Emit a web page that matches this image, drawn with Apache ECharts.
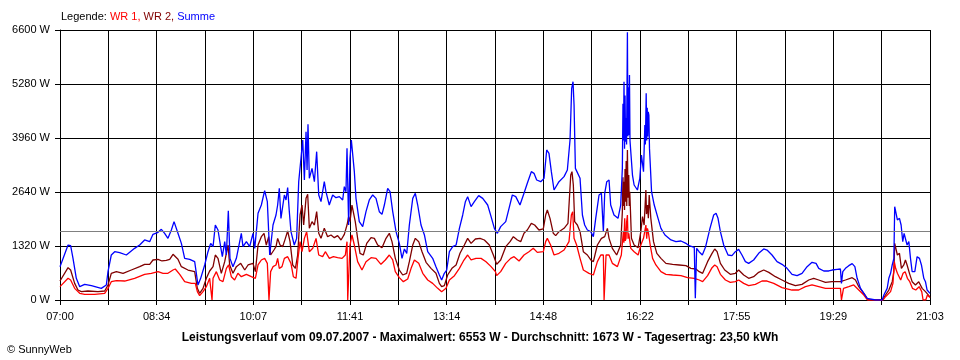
<!DOCTYPE html>
<html>
<head>
<meta charset="utf-8">
<script src="https://cdn.jsdelivr.net/npm/echarts@6/dist/echarts.min.js"></script>
<style>html,body{margin:0;padding:0;background:#fff}#c{width:960px;height:360px}</style>
</head>
<body>
<div id="c"></div>
<script>
// x: minutes since 07:00, y: watts
const tickLabels = ['07:00','08:34','10:07','11:41','13:14','14:48','16:22','17:55','19:29','21:03'];
const spanMinutes = 843;
const gridSteps = 18;
const average = 1673;
const titleText = 'Leistungsverlauf vom 09.07.2007 - Maximalwert: 6553 W - Durchschnitt: 1673 W - Tagesertrag: 23,50 kWh';

const summe = [[0,815],[7.8,1344],[10.3,1330],[12.6,1018],[15.8,530],[19.1,326],[23.9,383],[30.4,350],[40,285],[44.9,367],[46.5,692],[49.7,1100],[53,1181],[57.8,1157],[64.3,1100],[72.3,1263],[77.2,1344],[82,1467],[86.9,1426],[90.1,1605],[95,1654],[98.2,1727],[101.4,1630],[104.6,1507],[107.9,1711],[110.5,1915],[114.3,1630],[117.6,1385],[120.8,1018],[125.7,995],[130.5,937],[132.1,652],[133.7,367],[136.3,530],[140.2,856],[143.4,1181],[146,1385],[148.3,1304],[150.5,1833],[153.1,1711],[155.4,1344],[157.3,1059],[159.6,1426],[161.2,1100],[163.1,2184],[164.7,1018],[167.6,815],[170.9,1018],[175.7,1630],[177.3,1304],[180.6,1426],[183.8,1304],[187,1630],[188.7,1263],[191.9,2119],[195.1,2322],[198.3,2673],[200.9,2404],[203.2,1100],[206.4,1833],[209.3,2078],[210.9,2322],[212.5,2729],[214.1,1996],[217.4,2567],[219,2445],[220.6,2746],[222.2,2159],[223.8,1670],[227,1344],[229.3,1507],[231.3,2892],[233.5,3463],[235.2,3911],[236.8,2933],[238.4,4115],[239.4,3178],[240.3,4294],[241.6,2974],[244.2,3218],[246.5,2892],[248.7,3626],[250.7,2567],[252.9,2404],[256.1,2892],[257.7,2648],[260.9,2322],[264.2,2567],[267.4,2502],[270.7,2526],[273.9,2445],[275.5,2770],[277.1,2648],[278.1,3707],[279.7,1833],[281,3463],[282.3,3911],[283.6,3870],[285.2,3137],[286.8,2485],[290,1915],[293.3,1793],[296.5,2159],[299.7,2445],[303,2567],[306.2,2485],[309.4,2159],[312,2094],[314.3,2322],[317.5,2729],[319.8,2648],[322.4,2159],[325.6,1670],[328.8,1385],[331.4,1018],[333.7,1247],[336,1141],[338.5,1833],[341.8,2485],[344.3,2608],[346.6,2322],[349.8,1833],[353.1,1589],[356.3,1181],[361.1,1018],[364.3,815],[367.6,611],[369.8,489],[372.4,652],[374.7,733],[377.3,1181],[380.5,1304],[383.8,1344],[387,1752],[390.2,2078],[392.8,2404],[395,2526],[398.3,2282],[401.5,2404],[405.7,2552],[409.6,2485],[414.4,2322],[417.7,2037],[420.9,1752],[423.8,1630],[427,1793],[431.9,1915],[435.1,2241],[438.3,2567],[441.6,2526],[445.7,2322],[449.6,2608],[452.8,2852],[454.4,2811],[456.7,3137],[459.3,3096],[461.9,2933],[465.8,2892],[469,2974],[471.6,3667],[473.8,3585],[476.1,3137],[478.7,2689],[480.3,2648],[483.5,2892],[488.4,3015],[491.6,3178],[494.2,3911],[495.8,5174],[497.1,5337],[498.1,4767],[499.4,3218],[501.3,3259],[503.9,2974],[506.2,2078],[508.4,1833],[511,1711],[514.3,1670],[516.8,1548],[519.1,1996],[522.3,2567],[524.6,2608],[526.5,1670],[527.8,2608],[529.8,2892],[532,2933],[533.6,2322],[536.8,2078],[540.7,1996],[543.3,2322],[544.9,3218],[545.5,4800],[546,3900],[546.5,5337],[547,3700],[547.5,5000],[548,3870],[548.5,4440],[549,3800],[549.8,6543],[550.3,4000],[550.8,5200],[551.3,4033],[551.8,5500],[552.3,3900],[553.1,3870],[554.7,3055],[556.3,2811],[559.5,2689],[561.8,2974],[563.4,3544],[565.4,3137],[566.7,4278],[567.2,3800],[568,5052],[568.5,3900],[569,4700],[569.5,4000],[570,4600],[570.6,4522],[571.2,3700],[571.9,3341],[573.2,2648],[575.8,2322],[579,2037],[582.3,1752],[586.2,1589],[592,1467],[596.8,1426],[601.7,1442],[606.5,1385],[609.5,1328],[614.6,1288],[615.6,41],[616.9,1263],[619.2,1181],[622.4,1100],[625.6,1304],[629.8,1752],[633.4,2078],[635.7,2119],[637.6,1996],[639.9,1670],[643.1,1344],[647.3,1100],[651.1,1085],[654.4,1181],[657.6,1238],[660.8,1100],[664.1,937],[667.3,896],[672.1,978],[677,1141],[681.9,1247],[685.1,1222],[689.9,1100],[694.8,937],[699.6,872],[704.5,774],[709.3,627],[714.2,595],[719,652],[723.9,815],[728.7,921],[732.6,896],[735.2,774],[740.1,709],[744.9,709],[748.1,733],[753,750],[756.2,758],[757.2,407],[758.5,693],[761.1,774],[764.3,839],[767.6,888],[770.2,815],[772.4,530],[775.7,285],[778.9,163],[782.1,41],[783.8,0],[790.2,0],[790.9,25],[793.5,0],[796.7,0],[798.3,122],[801.5,285],[803.1,530],[804.8,652],[806.4,856],[808,1018],[808.8,2282],[810.1,2322],[811.4,1956],[813.4,1996],[815,1833],[816.6,1426],[817.9,1630],[819.2,1605],[820.8,1344],[822.5,1426],[824.1,1018],[825.7,693],[828.3,693],[830.5,1059],[832.8,1018],[834.7,856],[837,530],[838.6,448],[840.2,244],[841.9,204],[843,163]];

const wr2 = [[0,464],[7.8,790],[10.3,733],[14.2,407],[17.4,244],[20.7,204],[27.1,220],[36.8,204],[43.3,220],[46.5,367],[49.7,652],[54.6,693],[61.1,652],[69.1,733],[77.2,815],[82,872],[86.9,872],[90.1,978],[95,995],[98.8,954],[103,970],[106.3,995],[109.5,1117],[111.1,1141],[114.3,995],[117.6,815],[124,733],[130.5,693],[133.1,285],[135.3,163],[138.6,285],[141.8,530],[145,709],[148.3,815],[150.5,1100],[153.1,1018],[156.3,652],[159.6,937],[162.8,1344],[164.4,856],[167.6,652],[170.9,815],[175.1,896],[179,733],[182.2,856],[187,896],[189.3,693],[191.9,1344],[195.1,1548],[197.7,1630],[199.9,1344],[202.2,1548],[204.1,1100],[207.3,1222],[209.3,1304],[210.9,1507],[213.2,1344],[215.8,1304],[218.4,1507],[220.6,1687],[222.9,1426],[225.5,856],[228.1,774],[230.3,1100],[232.6,2078],[234.5,2322],[236.1,1833],[238.4,2485],[240,2583],[241.6,1752],[244.2,1915],[246.5,1833],[248.7,2159],[250.7,1630],[252.9,1507],[256.1,1752],[259.3,1548],[262.6,1589],[265.8,1524],[269,1573],[272.3,1467],[275.5,1605],[278.1,1833],[279.7,2037],[281,1915],[282.9,2322],[284.5,2282],[286.1,1915],[288.4,1507],[290.7,1141],[293.9,1100],[297.2,1385],[301.4,1524],[304.6,1507],[307.8,1344],[312,1279],[315.9,1507],[319.1,1630],[321.7,1426],[324.9,1018],[328.8,733],[332.1,611],[335.9,652],[338.5,937],[341.8,1344],[344.3,1507],[347.6,1426],[350.8,1181],[354.7,921],[359.5,774],[364.3,652],[367.6,407],[369.8,326],[372.4,350],[375.6,611],[379.8,774],[383.8,856],[387.6,1141],[391.8,1344],[395,1507],[398.3,1385],[402.5,1491],[407,1507],[411.2,1467],[416,1344],[419.9,1100],[423.1,872],[427,978],[431.9,1304],[436.1,1426],[439.3,1548],[443.2,1467],[446.4,1426],[449.6,1630],[452.8,1711],[456.7,1874],[459.9,1833],[464.1,1711],[468.3,1736],[470.6,2078],[472.2,2200],[474.8,1996],[478,1630],[480.3,1573],[483.5,1670],[488.4,1752],[492.2,1874],[494.9,3055],[496.1,3137],[497.4,2811],[498.7,1915],[501.3,1833],[503.9,1670],[507.1,1181],[511,1100],[514.3,978],[516.8,937],[520.7,1344],[524.6,1507],[527.8,1548],[530.4,1752],[532,1507],[535.2,1263],[539.4,1100],[543.3,1344],[544.9,2159],[545.5,3000],[546,2300],[546.5,2892],[547,2200],[547.5,3200],[548.1,2404],[548.6,3400],[549.2,2300],[549.8,3667],[550.4,2500],[551.1,3055],[551.6,2300],[552.1,2648],[553.7,1507],[556.3,1344],[560.2,1279],[562.8,1670],[564.4,2037],[566,1833],[567.7,2689],[568.3,2100],[569.3,2322],[570.1,2000],[570.9,2567],[572.5,1996],[575.1,1426],[578.3,1141],[582.3,1018],[587.1,896],[593.6,872],[600,856],[606.5,839],[611.3,774],[616.2,758],[619.4,693],[622.7,652],[627.5,937],[631.8,1141],[634.4,1247],[636.7,1181],[639.9,896],[644.1,733],[649.5,627],[654.4,652],[657.6,733],[662.5,611],[667.3,530],[672.1,570],[677,676],[681.9,733],[686.8,676],[693.2,570],[699.6,489],[706.1,407],[712.6,350],[719,383],[725.5,489],[730.3,530],[735.2,489],[741.7,432],[748.1,448],[756.2,448],[761.1,489],[767.6,546],[770.8,489],[774,326],[778.9,163],[783.1,0],[796.7,0],[799.9,122],[803.1,244],[806.4,448],[808,693],[808.8,1385],[810.1,1344],[811.4,1100],[813.4,1141],[815.3,774],[817.6,856],[819.2,978],[820.8,856],[823.1,652],[825.7,448],[828.9,367],[832.1,448],[835.4,285],[838.6,204],[841.9,106],[843,81]];

const wr1 = [[0,326],[7.8,530],[10.3,489],[14.2,285],[19.1,163],[23.9,139],[33.6,139],[43.3,163],[46.5,285],[49.7,448],[54.6,472],[62.7,464],[72.3,530],[82,627],[88.5,652],[95,693],[99.8,652],[104.6,652],[109.5,733],[111.7,758],[116,627],[120.8,448],[127.3,407],[131.1,407],[133.1,204],[135.3,106],[138.6,204],[141.8,326],[145,530],[146.6,546],[147.3,0],[148.3,530],[151.5,693],[154.7,489],[157.9,448],[161.2,774],[163.4,856],[166,570],[169.2,489],[172.4,652],[175.7,570],[180.6,627],[185.4,570],[189.3,530],[191.9,856],[195.1,978],[198.3,1018],[200.9,896],[202.5,0],[204.1,693],[206.4,815],[209.3,856],[210.9,1018],[212.5,774],[215.1,815],[217.4,1018],[220.6,1059],[223.8,896],[226.1,570],[228.7,530],[230.6,1018],[232.6,1426],[234.5,1181],[236.8,1507],[239,1670],[241.6,1181],[244.9,1263],[248.1,1507],[250.7,1100],[254.5,1059],[257.1,1181],[261,1018],[264.9,1059],[269,1035],[273.3,1018],[276.5,1100],[278.1,1426],[278.8,0],[280.4,0],[281,1344],[282.9,1589],[285.2,1344],[288.4,937],[292.6,733],[296.5,937],[301.4,1035],[306.2,1018],[311,872],[315.2,978],[319.1,1100],[322.4,978],[324.9,693],[328.8,546],[332.7,448],[336.9,513],[340.2,774],[343.4,978],[347.6,896],[351.5,652],[356.3,489],[361.1,407],[366,285],[369.8,204],[374,285],[377.3,489],[382.2,595],[387,774],[390.9,954],[395,1100],[398.3,978],[403.1,1018],[408,1018],[412.8,937],[417.7,815],[421.9,693],[423.1,595],[427,693],[431.9,896],[436.7,1018],[440,1059],[444.8,954],[449.6,1100],[454.4,1181],[458.6,1263],[462.5,1165],[468.3,1181],[470.6,1426],[472.2,1507],[475.4,1344],[478.7,1100],[483.5,1141],[488.4,1222],[493.2,1426],[495.5,2078],[496.8,2159],[498.1,1507],[500.6,1344],[503.9,1018],[507.1,733],[512.6,652],[516.8,611],[520.7,937],[524,1100],[526.5,1100],[527.2,0],[528.1,0],[529.1,1100],[532,1100],[535.2,896],[540.1,815],[543.9,1100],[545.9,1670],[546.4,1400],[547.2,1996],[547.7,1450],[548.5,1507],[549,1900],[549.8,2078],[550.4,1500],[551.1,1630],[553.1,1263],[556.3,1181],[560.2,1100],[562.8,1344],[565.4,1507],[567.7,1833],[568.5,1500],[569.2,1750],[570,1670],[571.9,1344],[574.2,1018],[577.4,856],[582.3,693],[587.1,627],[593.6,611],[601.7,595],[608.1,546],[614.6,530],[619.4,489],[622.7,448],[627.5,595],[631.8,790],[634.4,856],[636.7,815],[639.9,627],[644.8,489],[649.5,432],[654.4,448],[657.6,489],[662.5,407],[667.3,350],[673.8,383],[680.2,464],[685.1,464],[691.6,407],[699.6,302],[709.3,244],[715.8,244],[722.3,326],[728.7,367],[735.2,326],[741.7,285],[751.4,285],[756.2,285],[757.2,0],[758.5,0],[759.2,285],[764.3,326],[769.1,367],[774,244],[778.9,122],[782.5,0],[797.4,0],[799.9,81],[804.8,204],[807.1,407],[808.4,937],[809.7,774],[811.4,652],[814.6,489],[816.9,652],[818.9,693],[821.1,530],[823.4,448],[826,285],[829.2,244],[832.5,326],[835,204],[836.3,0],[838.9,0],[840.5,122],[841.9,81],[843,57]];

const toGrid = arr => arr.map(p => [p[0] * gridSteps / spanMinutes, p[1]]);
const FONT = 'Liberation Sans';
const LW = 1.3;

const chart = echarts.init(document.getElementById('c'), null, {renderer: 'canvas'});
chart.setOption({
  animation: false,
  backgroundColor: '#fff',
  textStyle: {fontFamily: FONT},
  title: [
    {
      left: 61, top: 11, padding: 0,
      text: '{k|Legende: }{a|WR 1, }{b|WR 2, }{c|Summe}',
      textStyle: {
        fontSize: 11, fontWeight: 'normal', fontFamily: FONT,
        rich: {
          k: {color: '#000', fontSize: 11, fontFamily: FONT},
          a: {color: '#ff0000', fontSize: 11, fontFamily: FONT},
          b: {color: '#800000', fontSize: 11, fontFamily: FONT},
          c: {color: '#0000ff', fontSize: 11, fontFamily: FONT}
        }
      }
    },
    {
      left: 'center', top: 332, padding: 0,
      text: titleText,
      textStyle: {fontSize: 12, fontWeight: 'bold', color: '#000', fontFamily: FONT}
    },
    {
      left: 7, top: 344, padding: 0,
      text: '\u00A9 SunnyWeb',
      textStyle: {fontSize: 11, fontWeight: 'normal', color: '#000', fontFamily: FONT}
    }
  ],
  grid: {left: 60, right: 30, top: 30, bottom: 60, containLabel: false},
  xAxis: {
    type: 'value', min: 0, max: gridSteps, interval: 1,
    axisLine: {show: true, lineStyle: {color: '#000', width: 1}},
    axisTick: {show: true, length: 5, lineStyle: {color: '#000'}},
    splitLine: {show: true, lineStyle: {color: '#000', width: 1}},
    axisLabel: {
      color: '#000', fontSize: 11, fontFamily: FONT, margin: 11,
      showMinLabel: true, showMaxLabel: true, hideOverlap: false,
      formatter: v => { const i = Math.round(v); return i % 2 === 0 ? tickLabels[i / 2] : ''; }
    }
  },
  yAxis: {
    type: 'value', min: 0, max: 6600, interval: 1320,
    axisLine: {show: true, lineStyle: {color: '#000', width: 1}},
    axisTick: {show: true, length: 5, lineStyle: {color: '#000'}},
    splitLine: {show: true, lineStyle: {color: '#000', width: 1}},
    axisLabel: {color: '#000', fontSize: 11, fontFamily: FONT, margin: 10, formatter: v => v + ' W'}
  },
  series: [
    {
      name: 'WR 1', type: 'line', data: toGrid(wr1), showSymbol: false, symbol: 'none',
      lineStyle: {color: '#ff0000', width: LW}, z: 3,
      markLine: {
        silent: true, symbol: 'none', label: {show: false},
        lineStyle: {color: '#808080', width: 1, type: 'solid'},
        data: [{yAxis: average}]
      }
    },
    {
      name: 'WR 2', type: 'line', data: toGrid(wr2), showSymbol: false, symbol: 'none',
      lineStyle: {color: '#800000', width: LW}, z: 2
    },
    {
      name: 'Summe', type: 'line', data: toGrid(summe), showSymbol: false, symbol: 'none',
      lineStyle: {color: '#0000ff', width: LW}, z: 4
    }
  ]
});
</script>
</body>
</html>
